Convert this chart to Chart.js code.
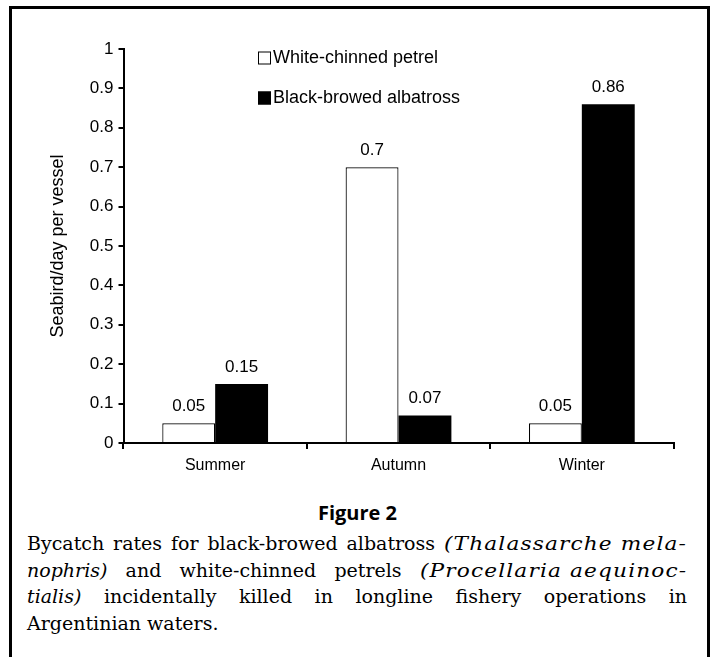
<!DOCTYPE html>
<html>
<head>
<meta charset="utf-8">
<script src="https://cdn.jsdelivr.net/npm/chart.js@4.4.0/dist/chart.umd.min.js"></script>
<style>
  html, body { margin: 0; padding: 0; background: #fff; }
  body { width: 715px; height: 657px; position: relative; overflow: hidden; }
  #frame { position: absolute; left: 9px; top: 6px; width: 695px; height: 700px;
           border-left: 3px solid #000; border-top: 3px solid #000; border-right: 3px solid #000; }
  #chartwrap { position: absolute; left: 0; top: 0; width: 715px; height: 490px; }
  #fig { position: absolute; left: 0; width: 715px; top: 499px; text-align: center;
         font-family: "Open Sans", sans-serif; font-weight: 700; font-size: 20px; color: #000; }
  #cap { position: absolute; left: 27px; top: 530px; width: 660px;
         font-family: "DejaVu Serif", serif; font-size: 19px; line-height: 26.5px; color: #000; }
  #cap .l { white-space: nowrap; }
  #cap i.w { letter-spacing: 1px; word-spacing: 0; display: inline-block; transform-origin: 0 50%; }
</style>
</head>
<body>
<div id="frame"></div>
<div id="chartwrap"><canvas id="c" width="715" height="490"></canvas></div>
<div id="fig">Figure 2</div>
<div id="cap">
  <div class="l j"><span>Bycatch rates for black-browed albatross <i class="w">(Thalassarche mela-</i></span></div>
  <div class="l j"><span><i>nophris)</i> and white-chinned petrels <i class="w">(Procellaria aequinoc-</i></span></div>
  <div class="l j"><span><i>tialis)</i> incidentally killed in longline fishery operations in</span></div>
  <div class="l"><span>Argentinian waters.</span></div>
</div>
<script>
const categories = ["Summer", "Autumn", "Winter"];
const seriesNames = ["White-chinned petrel", "Black-browed albatross"];
const whiteChinnedPetrel = [0.05, 0.7, 0.05];
const blackBrowedAlbatross = [0.15, 0.07, 0.86];
const yTickLabels = ["0", "0.1", "0.2", "0.3", "0.4", "0.5", "0.6", "0.7", "0.8", "0.9", "1"];

const FONT = "'Liberation Sans', Arial, sans-serif";

const valueLabels = {
  id: 'valueLabels',
  afterDatasetsDraw(chart) {
    const ctx = chart.ctx;
    ctx.save();
    ctx.font = "17px " + FONT;
    ctx.fillStyle = "#000";
    ctx.textAlign = "center";
    ctx.textBaseline = "middle";
    chart.data.datasets.forEach((ds, di) => {
      const meta = chart.getDatasetMeta(di);
      meta.data.forEach((el, i) => {
        ctx.fillText(String(ds.data[i]), el.x, el.y - 17);
      });
    });
    ctx.restore();
  }
};

const customLegend = {
  id: 'customLegend',
  afterDraw(chart) {
    const ctx = chart.ctx;
    ctx.save();
    ctx.font = "18px " + FONT;
    ctx.textBaseline = "middle";
    ctx.textAlign = "left";
    const x0 = 258, ys = [58, 98], box = 13;
    chart.data.datasets.forEach((ds, i) => {
      const y = ys[i];
      ctx.fillStyle = ds.backgroundColor;
      ctx.fillRect(x0, y - box / 2, box, box);
      ctx.strokeStyle = "#000";
      ctx.lineWidth = 1;
      ctx.strokeRect(x0 + 0.5, y - box / 2 + 0.5, box - 1, box - 1);
      ctx.fillStyle = "#000";
      ctx.fillText(ds.label, x0 + box + 2, y);
    });
    ctx.restore();
  }
};

function justifyCaption() {
  const SX = 1.14;
  document.querySelectorAll('#cap i.w').forEach(el => {
    const w = el.getBoundingClientRect().width;
    el.style.width = (w * SX) + 'px';
    el.style.transform = 'scaleX(' + SX + ')';
  });
  document.querySelectorAll('#cap .j').forEach(el => {
    const span = el.firstElementChild;
    const natural = span.getBoundingClientRect().width;
    let gaps = (span.textContent.trim().match(/\s+/g) || []).length;
    span.querySelectorAll('i.w').forEach(w => {
      gaps -= (w.textContent.trim().match(/\s+/g) || []).length;
    });
    if (gaps > 0) el.style.wordSpacing = ((660 - natural) / gaps) + 'px';
  });
}

function draw() {
  justifyCaption();
  new Chart(document.getElementById('c'), {
    type: 'bar',
    data: {
      labels: categories,
      datasets: [
        { label: seriesNames[0], data: whiteChinnedPetrel, backgroundColor: "#ffffff",
          borderColor: "#000000", borderWidth: 1.2, borderSkipped: 'bottom' },
        { label: seriesNames[1], data: blackBrowedAlbatross, backgroundColor: "#000000",
          borderColor: "#000000", borderWidth: 0 }
      ]
    },
    options: {
      responsive: false,
      devicePixelRatio: 1,
      animation: false,
      layout: { padding: { left: 45, right: 41.5, top: 49, bottom: 7 } },
      plugins: { legend: { display: false }, tooltip: { enabled: false } },
      datasets: { bar: { categoryPercentage: 0.577, barPercentage: 1.0 } },
      scales: {
        x: {
          grid: { display: true, drawOnChartArea: false, drawTicks: true, tickLength: 6,
                  color: "#000", lineWidth: 2, offset: true },
          border: { display: true, color: "#000", width: 2 },
          ticks: { color: "#000", font: { family: FONT, size: 16 }, padding: 7, maxRotation: 0 },
          afterFit(s) { s.height = 40; }
        },
        y: {
          min: 0, max: 1,
          grid: { display: true, drawOnChartArea: false, drawTicks: true, tickLength: 5,
                  color: "#000", lineWidth: 2 },
          border: { display: true, color: "#000", width: 2 },
          ticks: { stepSize: 0.1, color: "#000", font: { family: FONT, size: 17 }, padding: 5,
                   callback: (v, i) => yTickLabels[i] },
          title: { display: true, text: "Seabird/day per vessel", color: "#000",
                   font: { family: FONT, size: 18 }, padding: 2 },
          afterFit(s) { s.width = 78.5; }
        }
      }
    },
    plugins: [valueLabels, customLegend]
  });
}

Promise.all([
  document.fonts.load('17px "Liberation Sans"'),
  document.fonts.load('19px "DejaVu Serif"'),
  document.fonts.load('italic 19px "DejaVu Serif"'),
  document.fonts.load('bold 20px "Open Sans"')
]).then(draw, draw);
</script>
</body>
</html>
